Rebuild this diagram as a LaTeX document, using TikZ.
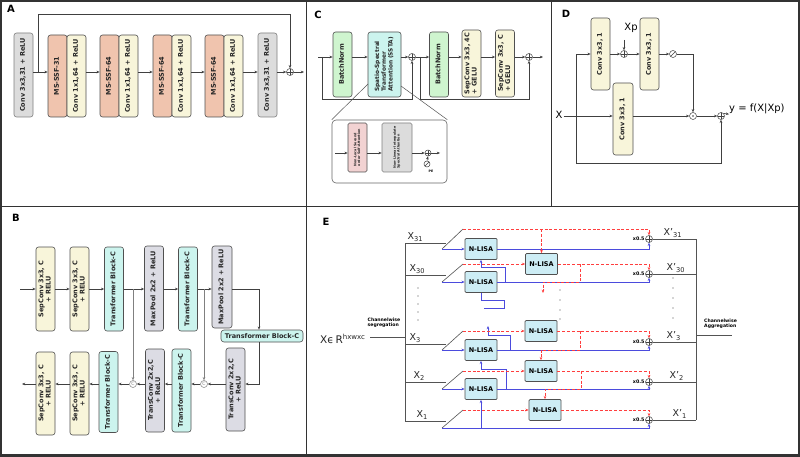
\documentclass[tikz,border=0pt]{standalone}
\usepackage{fontspec}
\setmainfont{DejaVu Sans}
\usetikzlibrary{arrows.meta,calc}
\definecolor{lc}{HTML}{404040}
\definecolor{bdr}{HTML}{505050}
\definecolor{cgray}{HTML}{DCDCDC}
\definecolor{csal}{HTML}{F0C4AE}
\definecolor{ccream}{HTML}{F8F5DA}
\definecolor{cgreen}{HTML}{CFF5CF}
\definecolor{ccyan}{HTML}{CCF4EE}
\definecolor{clav}{HTML}{DCDCE4}
\definecolor{cpink}{HTML}{F2D2D2}
\definecolor{cnl}{HTML}{CDEDF5}
\definecolor{cblue}{HTML}{4B4BDD}
\definecolor{cred}{HTML}{FF3E3E}
\definecolor{cframe}{HTML}{333333}
\newcommand\rl[1]{\rotatebox{90}{\begin{tabular}{@{}c@{}}#1\end{tabular}}}
\newcommand\rll[1]{\rotatebox{90}{\begin{tabular}{@{}l@{}}#1\end{tabular}}}
\newcommand\apos{{\char"27}}
\tikzset{
  arr/.style={-{Stealth[length=3.2pt,width=2.6pt]}},
  ln/.style={draw=lc,line width=0.55pt},
  wh/.style 2 args={minimum width=#1,minimum height=#2},
  box/.style={draw=bdr,line width=0.6pt,rounded corners=2.5pt,inner sep=0pt,
    font=\bfseries\fontsize{6.5}{7.3}\selectfont,text=black!85},
  gbox/.style={box,fill=cgray,draw=gray},
  sbox/.style={box,fill=csal},
  cbox/.style={box,fill=ccream},
  grbox/.style={box,fill=cgreen},
  cybox/.style={box,fill=ccyan},
  lbox/.style={box,fill=clav},
  nl/.style={draw=bdr,line width=0.7pt,fill=cnl,rounded corners=1pt,minimum width=32pt,
    minimum height=21pt,inner sep=0pt,font=\bfseries\fontsize{6.5}{7}\selectfont},
  circ/.style={circle,draw=lc,line width=0.5pt,fill=white,minimum size=7pt,inner sep=0pt},
  oplus/.style={circ,path picture={\draw[lc,line width=0.5pt]
    (path picture bounding box.north) -- (path picture bounding box.south)
    (path picture bounding box.west) -- (path picture bounding box.east);}},
  odot/.style={circ,path picture={\fill[lc] (path picture bounding box.center) circle (0.8pt);}},
  oslash/.style={circ,path picture={\draw[lc,line width=0.5pt]
    (path picture bounding box.south west) -- (path picture bounding box.north east);}},
  ocat/.style={circ,draw=gray,text=gray,font=\fontsize{4.5}{4.5}\selectfont},
  plab/.style={font=\bfseries\fontsize{10}{10}\selectfont,inner sep=0pt},
  bl/.style={draw=cblue,line width=0.9pt},
  rd/.style={draw=cred,line width=0.8pt,dash pattern=on 3pt off 1.8pt},
  gl/.style={draw=lc!90,line width=0.6pt},
  xl/.style={font=\fontsize{9.5}{9.5}\selectfont,inner sep=0.5pt,anchor=south west,text=black!85},
  hx/.style={font=\bfseries\fontsize{4.8}{4.8}\selectfont,inner sep=0.5pt,anchor=east},
  tiny/.style={font=\bfseries\fontsize{4.6}{5.4}\selectfont,inner sep=0pt,align=left}
}
\begin{document}
\begin{tikzpicture}[x=1pt,y=-1pt]
\useasboundingbox (0,0) rectangle (800,457);
\fill[white] (0,0) rectangle (800,457);
% frames
\draw[cframe,line width=1.6pt] (0.8,0.8) rectangle (799.2,455);
\draw[cframe,line width=3.5pt] (0,455.5) -- (800,455.5);
\draw[cframe,line width=1.8pt] (0,206.5) -- (800,206.5);
\draw[cframe,line width=1.8pt] (306.5,0) -- (306.5,206.5);
\draw[cframe,line width=1.8pt] (551.5,0) -- (551.5,206.5);
\draw[cframe,line width=1.8pt] (306.5,206.5) -- (306.5,457);
\node[plab] (LA) at (11,9) {A};
\node[plab] (LC) at (318,15) {C};
\node[plab] (LD) at (566,14) {D};
\node[plab] (LB) at (16,218) {B};
\node[plab] (LE) at (326,222) {E};

% ================= Panel A
\node[gbox,wh={19}{84}] (a1) at (23.5,75) {\rl{Conv 3x3,31 + ReLU}};
\node[sbox,wh={19}{82}] (a2) at (57.5,76) {\rl{MS-SSF-31}};
\node[cbox,wh={19}{82}] (a3) at (76.5,76) {\rl{Conv 1x1,64 + ReLU}};
\node[sbox,wh={19}{82}] (a4) at (109.5,76) {\rl{MS-SSF-64}};
\node[cbox,wh={19}{82}] (a5) at (128.5,76) {\rl{Conv 1x1,64 + ReLU}};
\node[sbox,wh={19}{82}] (a6) at (162.5,76) {\rl{MS-SSF-64}};
\node[cbox,wh={19}{82}] (a7) at (181.5,76) {\rl{Conv 1x1,64 + ReLU}};
\node[sbox,wh={19}{82}] (a8) at (214.5,76) {\rl{MS-SSF-64}};
\node[cbox,wh={19}{82}] (a9) at (233.5,76) {\rl{Conv 1x1,64 + ReLU}};
\node[gbox,wh={19}{84}] (a10) at (267.5,75) {\rl{Conv 3x3,31 + ReLU}};
\node[oplus] (pa) at (290,72) {};
\coordinate (sa) at (38,72);
\coordinate (sat) at (290,14);
\coordinate (oa) at (304,72);
\draw[ln,arr] (a1.east |- pa) -- (a2.west |- pa);
\draw[ln,arr] (a3.east |- pa) -- (a4.west |- pa);
\draw[ln,arr] (a5.east |- pa) -- (a6.west |- pa);
\draw[ln,arr] (a7.east |- pa) -- (a8.west |- pa);
\draw[ln,arr] (a9.east |- pa) -- (a10.west |- pa);
\draw[ln,arr] (a10.east |- pa) -- (pa.west);
\draw[ln,arr] (sa) |- (sat) -- (pa.north);
\draw[ln,arr] (pa.east) -- (oa);

% ================= Panel C
\node[grbox,wh={19}{65}] (c1) at (342.5,64.5) {\rl{BatchNorm}};
\node[cybox,wh={33}{65},font=\bfseries\fontsize{5.8}{6.8}\selectfont] (c2) at (384.5,64.5) {\rll{Spatio-Spectral\\Transformer\\Attention (SSTA)}};
\node[oplus] (pc1) at (412,57) {};
\node[grbox,wh={19}{65}] (c3) at (439,64.5) {\rl{BatchNorm}};
\node[cbox,wh={19}{67}] (c4) at (471.5,63.5) {\rll{SepConv 3x3, 4C\\+ GELU}};
\node[cbox,wh={19}{67}] (c5) at (505,63.5) {\rll{SepConv 3x3, C\\+ GELU}};
\node[oplus] (pc2) at (529,57) {};
\coordinate (cin) at (318,57);
\coordinate (cl1) at (322,57);
\coordinate (cb1) at (322,99);
\coordinate (cl2) at (420,57);
\coordinate (cb2) at (420,99);
\coordinate (cout) at (543,57);
\draw[ln,arr] (cin) -- (c1.west |- pc1);
\draw[ln,arr] (cl1) -- (cb1) -| (pc1.south);
\draw[ln,arr] (c1.east |- pc1) -- (c2.west |- pc1);
\draw[ln,arr] (c2.east |- pc1) -- (pc1.west);
\draw[ln,arr] (pc1.east) -- (c3.west |- pc1);
\draw[ln,arr] (cl2) -- (cb2) -| (pc2.south);
\draw[ln,arr] (c3.east |- pc1) -- (c4.west |- pc1);
\draw[ln,arr] (c4.east |- pc1) -- (c5.west |- pc1);
\draw[ln,arr] (c5.east |- pc1) -- (pc2.west);
\draw[ln,arr] (pc2.east) -- (cout);
% inset
\node[draw=gray!80!black,line width=0.6pt,rounded corners=4pt,fill=white,wh={115}{63}] (ci) at (389.5,151.5) {};
\coordinate (ccl) at (368,84);
\coordinate (ccr) at (401,86);
\draw[gl,line width=0.5pt] (ccl) -- (ci.north west);
\draw[gl,line width=0.5pt] (ccr) -- (ci.north east);
\node[box,fill=cpink,rounded corners=1.5pt,wh={19}{49},font=\bfseries\fontsize{3.3}{3.9}\selectfont] (ci1) at (357.5,147.5) {\rll{Non-Local Second\\order Self-Attention}};
\node[box,fill=cgray,draw=gray,rounded corners=1.5pt,wh={30}{49},font=\bfseries\fontsize{3.3}{3.9}\selectfont] (ci2) at (397,147.5) {\rll{Non-Linear Interpolate\\Spectral Attention}};
\node[oplus,minimum size=6pt] (pci) at (428,153) {};
\node[oslash,minimum size=6pt] (pe) at (427,164) {};
\node[font=\bfseries\fontsize{3.2}{3.2}\selectfont,inner sep=0pt] (pel) at (431,171.5) {PE};
\coordinate (ciin) at (335,153);
\coordinate (ciout) at (440,153);
\draw[ln,arr,line width=0.45pt] (ciin) -- (ci1.west |- pci);
\draw[ln,arr,line width=0.45pt] (ci1.east |- pci) -- (ci2.west |- pci);
\draw[ln,arr,line width=0.45pt] (ci2.east |- pci) -- (pci.west);
\draw[ln,arr,line width=0.45pt] (pci.east) -- (ciout);
\draw[ln,arr,line width=0.45pt] (pe.north) -- (pci.south);

% ================= Panel D
\node[cbox,wh={19}{72}] (d1) at (600.5,54) {\rl{Conv 3x3, 1}};
\node[cbox,wh={19}{72}] (d2) at (649.5,54) {\rl{Conv 3x3, 1}};
\node[cbox,wh={20}{72}] (d3) at (623,119) {\rl{Conv 3x3, 1}};
\node[oplus] (pd1) at (624,54) {};
\node[font=\fontsize{10}{10}\selectfont,inner sep=0pt] (xp) at (631,28) {Xp};
\coordinate (xpa) at (624,40);
\node[oslash] (sd) at (673,54) {};
\node[odot] (dd) at (693,116) {};
\node[oplus] (pd2) at (721,116) {};
\node[font=\fontsize{10}{10}\selectfont,inner sep=1pt] (xd) at (559,115) {X};
\node[font=\fontsize{10}{10}\selectfont,inner sep=0pt,anchor=west] (yd) at (729,109) {y = f(X|Xp)};
\coordinate (dj) at (576,116);
\coordinate (dbr) at (721,163);
\draw[ln,arr] (xpa) -- (pd1.north);
\draw[ln,arr] (xd.east |- dd) -- (d3.west |- dd);
\draw[ln,arr] (dj) |- (d1.west |- pd1);
\draw[ln,arr] (dj) |- (dbr) -- (pd2.south);
\draw[ln,arr] (d1.east |- pd1) -- (pd1.west);
\draw[ln,arr] (pd1.east) -- (d2.west |- pd1);
\draw[ln,arr] (d2.east |- pd1) -- (sd.west);
\draw[ln,arr] (sd.east) -| (dd.north);
\draw[ln,arr] (d3.east |- dd) -- (dd.west);
\draw[ln,arr] (dd.east) -- (pd2.west);
\draw[ln,arr] (pd2.north east) -- (yd.south west);

% ================= Panel B
\node[cbox,wh={19}{84}] (b1) at (45.5,289) {\rl{SepConv 3x3, C\\+ RELU}};
\node[cbox,wh={19}{84}] (b2) at (79.5,289) {\rl{SepConv 3x3, C\\+ RELU}};
\node[cybox,wh={19}{84}] (b3) at (114,289) {\rl{Transformer Block-C}};
\node[lbox,wh={19}{85}] (b4) at (154,288.5) {\rl{MaxPool 2x2 + ReLU}};
\node[cybox,wh={19}{84}] (b5) at (188,289) {\rl{Transformer Block-C}};
\node[lbox,wh={20}{82}] (b6) at (222,287) {\rl{MaxPool 2x2 + ReLU}};
\node[cybox,wh={82}{12},rounded corners=3pt,font=\bfseries\fontsize{6.5}{7}\selectfont] (b7) at (262,336) {Transformer Block-C};
\node[lbox,wh={19}{83}] (b8) at (235.5,389.5) {\rl{TransConv 2x2,C\\+ ReLU}};
\node[cybox,wh={19}{83}] (b9) at (181.5,390.5) {\rl{Transformer Block-C}};
\node[lbox,wh={19}{83}] (b10) at (155,390.5) {\rl{TransConv 2x2,C\\+ ReLU}};
\node[cybox,wh={19}{81}] (b11) at (108.5,392) {\rl{Transformer Block-C}};
\node[cbox,wh={19}{83}] (b12) at (79.5,393.5) {\rl{SepConv 3x3, C\\+ RELU}};
\node[cbox,wh={19}{83}] (b13) at (45.5,393.5) {\rl{SepConv 3x3, C\\+ RELU}};
\node[ocat] (cc1) at (133,384) {C};
\node[ocat] (cc2) at (204,384) {C};
\coordinate (bin) at (20,289);
\coordinate (bout) at (22,384);
\coordinate (bj1) at (133,289);
\coordinate (bj2) at (204,289);
\coordinate (bk1) at (259,289);
\draw[ln,arr] (bin) -- (b1.west |- bin);
\draw[ln,arr] (b1.east |- bin) -- (b2.west |- bin);
\draw[ln,arr] (b2.east |- bin) -- (b3.west |- bin);
\draw[ln,arr] (b3.east |- bin) -- (b4.west |- bin);
\draw[ln,arr] (b4.east |- bin) -- (b5.west |- bin);
\draw[ln,arr] (b5.east |- bin) -- (b6.west |- bin);
\draw[ln] (b6.east |- bin) -- (bk1);
\draw[ln,arr] (bk1) -- (bk1 |- b7.north);
\draw[ln,arr] (bk1 |- b7.south) |- (b8.east |- cc2);
\draw[ln,arr,draw=gray] (bj1) -- (cc1.north);
\draw[ln,arr,draw=gray] (bj2) -- (cc2.north);
\draw[ln,arr] (b8.west |- cc2) -- (cc2.east);
\draw[ln,arr] (cc2.west) -- (b9.east |- cc2);
\draw[ln,arr] (b9.west |- cc2) -- (b10.east |- cc2);
\draw[ln,arr] (b10.west |- cc2) -- (cc1.east);
\draw[ln,arr] (cc1.west) -- (b11.east |- cc1);
\draw[ln,arr] (b11.west |- cc1) -- (b12.east |- cc1);
\draw[ln,arr] (b12.west |- cc1) -- (b13.east |- cc1);
\draw[ln,arr] (b13.west |- cc1) -- (bout);

% ================= Panel E
\node[font=\fontsize{10.5}{10.5}\selectfont,inner sep=0pt,anchor=base west,text=black!85] (xin) at (320,343) {Xϵ\,R\textsuperscript{\fontsize{7}{7}\selectfont hxwxc}};
\node[tiny] (segl) at (384,322.5) {Channelwise\\segregation};
\coordinate (sg1) at (370,337);
\coordinate (sg2) at (405,337);
\draw[gl] (sg1) -- (sg2);
\draw[gl] (405,243) -- (405,421);
% rows: gray split lines
\foreach \g/\b/\r in {243/249/229, 275/282/264, 344/350/331, 382/389/371, 421/428/410}{
  \draw[gl] (405,\g) -- (446,\g);
  \draw[gl] (442,\b) -- (463,\r);
}
\node[xl] (x31) at (407,242) {X\textsubscript{31}};
\node[xl] (x30) at (409,274) {X\textsubscript{30}};
\node[xl] (x3) at (409,343) {X\textsubscript{3}};
\node[xl] (x2) at (413,381) {X\textsubscript{2}};
\node[xl] (x1) at (416,420) {X\textsubscript{1}};
\foreach \yy in {288,296,304,312,320} \fill[black!70] (418,\yy) circle (0.6pt);
\foreach \yy in {290,300,310,319} \fill[black!70] (560,\yy) circle (0.6pt);
\foreach \yy in {278,288,298,308,318} \fill[black!70] (673,\yy) circle (0.6pt);
% N-LISA nodes
\node[nl] (n31) at (481,249) {N-LISA};
\node[nl] (n30) at (481,282) {N-LISA};
\node[nl] (n3) at (481,350) {N-LISA};
\node[nl] (n2) at (481,389) {N-LISA};
\node[nl] (m30) at (541.5,264) {N-LISA};
\node[nl] (m3) at (541,331) {N-LISA};
\node[nl] (m2) at (541,371) {N-LISA};
\node[nl] (m1) at (545,410) {N-LISA};
\node[oplus] (p31) at (649,239) {};
\node[oplus] (p30) at (649,274) {};
\node[oplus] (p3) at (649,342) {};
\node[oplus] (p2) at (649,382) {};
\node[oplus] (p1) at (649,420) {};
% blue
\coordinate (b31) at (442,249);
\coordinate (b30) at (442,282);
\coordinate (bb3) at (442,350);
\coordinate (bb2) at (442,389);
\coordinate (bb1) at (442,428);
\coordinate (q30) at (505,282);
\coordinate (q3) at (510,350);
\coordinate (q2) at (506,389);
\coordinate (q1) at (481,428);
\draw[bl,arr] (b31) -- (n31.west);
\draw[bl,arr] (n31.east) -| (p31.south);
\draw[bl,arr] (b30) -- (n30.west);
\draw[bl,arr] (n30.east) -| (p30.south);
\draw[bl,arr] (q30) -- ++(0,-15) -| (n31.south);
\draw[bl] (n30.south) -- ++(0,8) -- ++(23,0) -- ++(0,8) -- ++(-20,0);
\draw[bl,arr] (bb3) -- (n3.west);
\draw[bl,arr] (n3.east) -| (p3.south);
\draw[bl,arr] (q3) -- ++(0,-15) -- ++(-22,0) -- ++(0,-9);
\draw[bl,arr] (bb2) -- (n2.west);
\draw[bl,arr] (n2.east) -| (p2.south);
\draw[bl,arr] (q2) -- ++(0,-20) -| (n3.south);
\draw[bl,arr] (bb1) -| (p1.south);
\draw[bl,arr] (q1) -- (n2.south);
% red
\coordinate (r31) at (463,229);
\coordinate (r30) at (463,264);
\coordinate (rr3) at (463,331);
\coordinate (rr2) at (463,371);
\coordinate (rr1) at (463,410);
\coordinate (s31) at (541.5,229);
\coordinate (s30) at (580,264);
\coordinate (s3) at (580,331);
\coordinate (s2) at (581,371);
\draw[rd,arr] (r31) -| (p31.north);
\draw[rd,arr] (s31) -- (m30.north);
\draw[rd,arr] (r30) -- (m30.west);
\draw[rd,arr] (m30.east) -| (p30.north);
\draw[rd,arr] (s30) -- ++(0,18) -- ++(-37,0) -- ++(0,11);
\draw[rd,arr] (rr3) -- (m3.west);
\draw[rd,arr] (m3.east) -| (p3.north);
\draw[rd,arr] (s3) -- ++(0,19) -| (m2.north);
\draw[rd,arr] (rr2) -- (m2.west);
\draw[rd,arr] (m2.east) -| (p2.north);
\draw[rd,arr] (s2) -- ++(0,18) -| (m1.north);
\draw[rd,arr] (rr1) -- (m1.west);
\draw[rd,arr] (m1.east) -| (p1.north);
% x0.5
\foreach \p in {p31,p30,p3,p2,p1} \node[hx] at (\p.west) {x0.5};
% outputs
\coordinate (ag1) at (696,239);
\coordinate (ag2) at (696,420);
\foreach \p in {p31,p30,p3,p2,p1} \draw[gl] (\p.east) -- (ag1 |- \p);
\draw[gl] (ag1) -- (ag2);
\node[xl] (y31) at (663,238) {X\apos\textsubscript{31}};
\node[xl] (y30) at (666,273) {X\apos\textsubscript{30}};
\node[xl] (y3) at (666,341) {X\apos\textsubscript{3}};
\node[xl] (y2) at (669,381) {X\apos\textsubscript{2}};
\node[xl] (y1) at (672,419) {X\apos\textsubscript{1}};
\node[tiny,anchor=west] (agl) at (704,324) {Channelwise\\Aggregation};
\coordinate (ag3) at (697,335);
\coordinate (ag4) at (732,335);
\draw[gl] (ag3) -- (ag4);
\end{tikzpicture}
\end{document}
